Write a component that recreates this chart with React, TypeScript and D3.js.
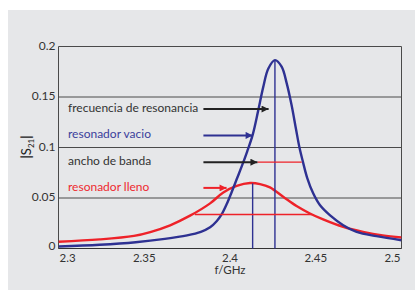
import React from "react";
import * as d3 from "d3";

const freqBlue = [2.300, 2.324, 2.345, 2.362, 2.375, 2.383, 2.3884, 2.3922, 2.3952, 2.3981, 2.401, 2.404, 2.407, 2.410, 2.4133, 2.4165, 2.4194, 2.4223, 2.4262, 2.4301, 2.433, 2.4359, 2.4385, 2.4405, 2.4425, 2.445, 2.4485, 2.4524, 2.4582, 2.466, 2.4738, 2.4854, 2.500];
const s21Blue = [0.0020, 0.0037, 0.0062, 0.0095, 0.0130, 0.0165, 0.0210, 0.0270, 0.0340, 0.0440, 0.0560, 0.0690, 0.0820, 0.0960, 0.1130, 0.1370, 0.1600, 0.1780, 0.1865, 0.1800, 0.1640, 0.1420, 0.1180, 0.1000, 0.0860, 0.0700, 0.0546, 0.0430, 0.0330, 0.0231, 0.0165, 0.0122, 0.0082];

const freqRed = [2.300, 2.324, 2.344, 2.3535, 2.3651, 2.3767, 2.3884, 2.3961, 2.4039, 2.4117, 2.4175, 2.4233, 2.431, 2.4388, 2.4466, 2.4543, 2.466, 2.4776, 2.489, 2.500];
const s21Red = [0.0067, 0.0090, 0.0125, 0.0163, 0.0230, 0.0325, 0.0447, 0.0555, 0.0620, 0.0648, 0.0638, 0.0605, 0.0512, 0.0420, 0.0347, 0.0288, 0.0214, 0.0165, 0.0130, 0.0109];

const xTicks = [2.3, 2.35, 2.4, 2.45, 2.5];
const xTickLabels = ["2.3", "2.35", "2.4", "2.45", "2.5"];
const yTicks = [0, 0.05, 0.1, 0.15, 0.2];
const yTickLabels = ["0", "0.05", "0.1", "0.15", "0.2"];

const annoLabels = ["frecuencia de resonancia", "resonador vacio", "ancho de banda", "resonador lleno"];
const annoY = [0.138, 0.112, 0.0855, 0.060];
const annoStart = 2.3845;
const annoEnd = [2.4225, 2.4132, 2.416, 2.398];
const annoKind = ["black", "blue", "black", "red"];

// resonance markers
const resFreq = [2.4262, 2.4132];
const resPeak = [0.1865, 0.0645];
// bandwidth lines
const bwLevel = [0.0855, 0.0337];
const bwStart = [2.416, 2.3795];
const bwEnd = [2.4418, 2.4476];

const BLUE = "#2e3192";
const RED = "#ee2229";
const BLACK = "#222";
const colorOf: Record<string, string> = { black: BLACK, blue: BLUE, red: RED };
const textColorOf: Record<string, string> = { black: "#333", blue: "#3b3e9c", red: "#ee2a30" };

const FONT = "Lato, 'Open Sans', sans-serif";

export default function App() {
  const left = 58.5, right = 401.5, top = 46.5, bottom = 248.5;
  const x = d3.scaleLinear().domain([2.3, 2.5]).range([left, right]);
  const y = d3.scaleLinear().domain([0, 0.2]).range([bottom, top]);

  const line = d3
    .line<[number, number]>()
    .x((d) => x(d[0]))
    .y((d) => y(d[1]))
    .curve(d3.curveCatmullRom.alpha(0.5));

  const bluePts = freqBlue.map((f, i) => [f, s21Blue[i]] as [number, number]);
  const redPts = freqRed.map((f, i) => [f, s21Red[i]] as [number, number]);

  return (
    <svg width={415} height={291} style={{ position: "absolute", left: 0, top: 0 }}>
      <defs>
        {["black", "blue", "red"].map((k) => (
          <marker
            key={k}
            id={"arr-" + k}
            viewBox="0 0 10 10"
            refX={10}
            refY={5}
            markerUnits="userSpaceOnUse"
            markerWidth={8}
            markerHeight={7}
            orient="auto"
          >
            <path d="M0,0 L10,5 L0,10 z" fill={colorOf[k]} />
          </marker>
        ))}
        <clipPath id="plotclip">
          <rect x={left} y={top} width={right - left} height={bottom - top} />
        </clipPath>
      </defs>
      <rect x={0} y={0} width={415} height={291} fill="#ffffff" />
      <rect x={8} y={10} width={407} height={280} fill="#e6e7e9" />

      {/* grid */}
      {yTicks.map((t) => (
        <line key={"g" + t} x1={left} x2={right} y1={y(t)} y2={y(t)} stroke="#4a4a4a" strokeWidth={1} />
      ))}
      <line x1={left} x2={left} y1={top} y2={bottom} stroke="#4a4a4a" strokeWidth={1} />
      <line x1={right} x2={right} y1={top} y2={bottom} stroke="#4a4a4a" strokeWidth={1} />
      <line x1={left} x2={right} y1={bottom} y2={bottom} stroke="#333" strokeWidth={1.2} />

      {/* y tick labels */}
      {yTicks.map((t, i) => (
        <text
          key={"yt" + t}
          x={left - 3}
          y={y(t) - (t === 0 ? 2 : 0)}
          textAnchor="end"
          dominantBaseline="middle"
          fontFamily={FONT}
          fontSize={12}
          fill="#333"
        >
          {yTickLabels[i]}
        </text>
      ))}

      {/* x tick labels */}
      {xTicks.map((t, i) => (
        <text
          key={"xt" + t}
          x={x(t) + (i === 0 ? 1 : i === xTicks.length - 1 ? -1 : 0)}
          y={262}
          textAnchor={i === 0 ? "start" : i === xTicks.length - 1 ? "end" : "middle"}
          fontFamily={FONT}
          fontSize={11.5}
          fill="#333"
        >
          {xTickLabels[i]}
        </text>
      ))}
      <text x={(left + right) / 2} y={274} textAnchor="middle" fontFamily={FONT} fontSize={11.5} fill="#333">
        f/GHz
      </text>

      {/* y title */}
      <g transform="translate(31,147) rotate(-90)">
        <text textAnchor="middle" fontFamily={FONT} fontSize={13} fill="#222">
          <tspan fontWeight="bold">|</tspan>
          <tspan>S</tspan>
          <tspan fontSize={8} dy={3}>21</tspan>
          <tspan dy={-3} fontWeight="bold">|</tspan>
        </text>
      </g>

      {/* curves */}
      <g clipPath="url(#plotclip)">
        <path d={line(redPts) || ""} fill="none" stroke={RED} strokeWidth={2.4} />
        <path d={line(bluePts) || ""} fill="none" stroke={BLUE} strokeWidth={2.4} />
      </g>

      {/* resonance vertical lines */}
      {resFreq.map((f, i) => (
        <line key={"rv" + i} x1={x(f)} x2={x(f)} y1={y(0)} y2={y(resPeak[i])} stroke={BLUE} strokeWidth={1.4} />
      ))}

      {/* bandwidth lines */}
      {bwLevel.map((lv, i) => (
        <line key={"bw" + i} x1={x(bwStart[i])} x2={x(bwEnd[i])} y1={y(lv)} y2={y(lv)} stroke={RED} strokeWidth={1.4} />
      ))}

      {/* annotations */}
      {annoLabels.map((lab, i) => (
        <g key={"an" + i}>
          <text
            x={68}
            y={y(annoY[i])}
            dominantBaseline="middle"
            fontFamily={FONT}
            fontSize={12}
            fill={textColorOf[annoKind[i]]}
          >
            {lab}
          </text>
          <line
            x1={x(annoStart)}
            x2={x(annoEnd[i])}
            y1={y(annoY[i])}
            y2={y(annoY[i])}
            stroke={colorOf[annoKind[i]]}
            strokeWidth={2}
            markerEnd={"url(#arr-" + annoKind[i] + ")"}
          />
        </g>
      ))}
    </svg>
  );
}
